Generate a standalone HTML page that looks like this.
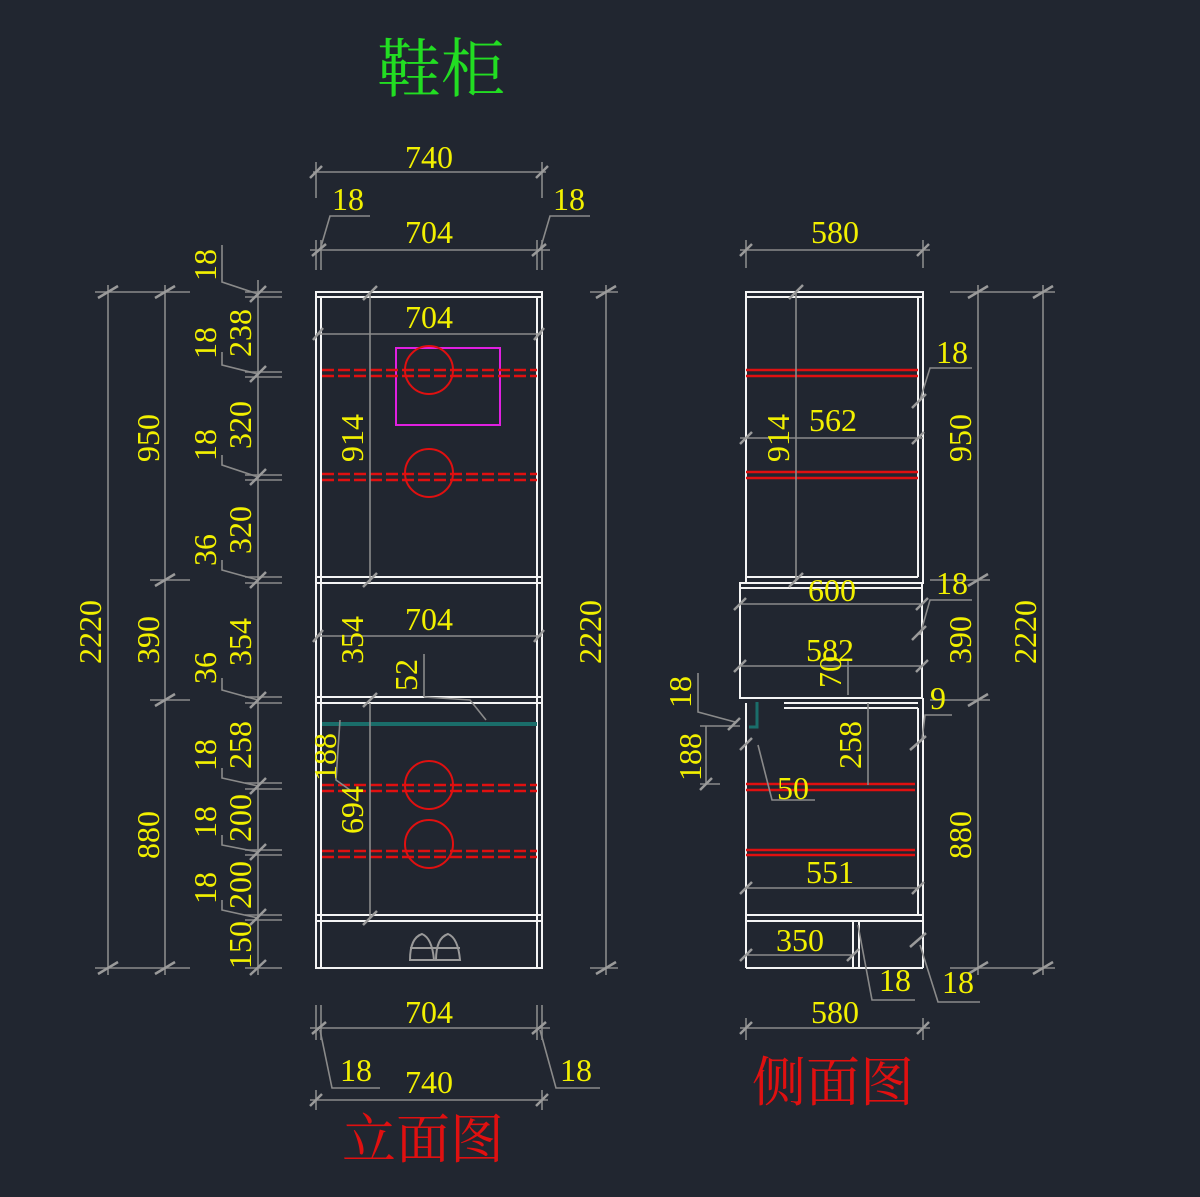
<!DOCTYPE html>
<html><head><meta charset="utf-8"><style>
html,body{margin:0;padding:0;background:#212630;}
svg{display:block}
.t{font-family:"Liberation Serif",serif;font-size:32px;fill:#f2f000;text-anchor:middle;dominant-baseline:central}
.w{stroke:#f4f4f4;stroke-width:2;fill:none}
.g{stroke:#8a8a8a;stroke-width:1.6;fill:none}
.tk{stroke:#9a9a9a;stroke-width:2.5}
.rd{stroke:#e01010;stroke-width:2.5;stroke-dasharray:12 4;fill:none}
.rs{stroke:#e01010;stroke-width:2.5;fill:none}
.c{stroke:#e01010;stroke-width:2;fill:none}
</style></head><body>
<svg width="1200" height="1197" viewBox="0 0 1200 1197" xmlns="http://www.w3.org/2000/svg">
<rect width="1200" height="1197" fill="#212630"/>
<text x="441" y="70" font-family="'Liberation Serif','Noto Serif CJK SC',serif" font-size="64" fill="#22dd22" text-anchor="middle" dominant-baseline="central">鞋柜</text>
<text x="423" y="1140" font-family="'Liberation Serif','Noto Serif CJK SC',serif" font-size="54" fill="#e01010" text-anchor="middle" dominant-baseline="central">立面图</text>
<text x="833" y="1083" font-family="'Liberation Serif','Noto Serif CJK SC',serif" font-size="54" fill="#e01010" text-anchor="middle" dominant-baseline="central">侧面图</text>

<!-- FRONT VIEW -->
<rect class="w" x="316" y="292" width="226" height="676"/>
<line class="w" x1="321" y1="297" x2="321" y2="968"/>
<line class="w" x1="537" y1="297" x2="537" y2="968"/>
<line class="w" x1="316" y1="297" x2="542" y2="297"/>
<line class="w" x1="316" y1="577" x2="542" y2="577"/>
<line class="w" x1="316" y1="583" x2="542" y2="583"/>
<line class="w" x1="316" y1="697" x2="542" y2="697"/>
<line class="w" x1="316" y1="703" x2="542" y2="703"/>
<line class="w" x1="316" y1="915" x2="542" y2="915"/>
<line class="w" x1="316" y1="921" x2="542" y2="921"/>
<line x1="322" y1="724" x2="537" y2="724" stroke="#1a6d6a" stroke-width="4"/>
<rect x="396" y="348" width="104" height="77" fill="none" stroke="#e020e0" stroke-width="2"/>
<line class="rd" x1="322" y1="370" x2="537" y2="370"/><line class="rd" x1="322" y1="376" x2="537" y2="376"/>
<line class="rd" x1="322" y1="474" x2="537" y2="474"/><line class="rd" x1="322" y1="480" x2="537" y2="480"/>
<line class="rd" x1="322" y1="785" x2="537" y2="785"/><line class="rd" x1="322" y1="791" x2="537" y2="791"/>
<line class="rd" x1="322" y1="851" x2="537" y2="851"/><line class="rd" x1="322" y1="857" x2="537" y2="857"/>
<circle class="c" cx="429" cy="370" r="24"/><circle class="c" cx="429" cy="473" r="24"/>
<circle class="c" cx="429" cy="785" r="24"/><circle class="c" cx="429" cy="844" r="24"/>
<!-- shoes -->
<g stroke="#9a9a9a" stroke-width="2" fill="none"><path d="M410 960 q0-22 12-26 q10 4 12 26 z"/><path d="M436 960 q0-22 12-26 q10 4 12 26 z"/><line x1="410" y1="948" x2="460" y2="948"/></g>
<!-- inner dims front -->
<g class="g"><line x1="370" y1="292" x2="370" y2="583"/><line x1="370" y1="703" x2="370" y2="918"/>
<line x1="316" y1="334" x2="542" y2="334"/><line x1="316" y1="636" x2="542" y2="636"/>
<line x1="424" y1="654" x2="424" y2="697"/><polyline points="424,697 470,700 486,720"/><polyline points="340,720 336,780 350,790"/></g>
<g class="tk"><line x1="363" y1="300" x2="377" y2="286"/><line x1="363" y1="587" x2="377" y2="573"/><line x1="363" y1="707" x2="377" y2="693"/><line x1="363" y1="925" x2="377" y2="911"/>
<line x1="313" y1="340" x2="323" y2="328"/><line x1="534" y1="340" x2="544" y2="328"/><line x1="313" y1="642" x2="323" y2="630"/><line x1="534" y1="642" x2="544" y2="630"/></g>
<text class="t" x="429" y="317">704</text><text class="t" x="429" y="619">704</text>
<text class="t" transform="translate(352 438) rotate(-90)">914</text>
<text class="t" transform="translate(352 640) rotate(-90)">354</text>
<text class="t" transform="translate(406 675) rotate(-90)">52</text>
<text class="t" transform="translate(325 757) rotate(-90)">188</text>
<text class="t" transform="translate(352 810) rotate(-90)">694</text>
<!-- top dims -->
<g class="g"><line x1="313" y1="172" x2="546" y2="172"/><line x1="316" y1="162" x2="316" y2="198"/><line x1="542" y1="162" x2="542" y2="198"/>
<line x1="310" y1="250" x2="550" y2="250"/><line x1="316" y1="240" x2="316" y2="270"/><line x1="321" y1="240" x2="321" y2="270"/><line x1="537" y1="240" x2="537" y2="270"/><line x1="542" y1="240" x2="542" y2="270"/>
<polyline points="370,216 330,216 320,250"/><polyline points="590,216 550,216 540,250"/>
<line x1="310" y1="1028" x2="550" y2="1028"/><line x1="316" y1="1005" x2="316" y2="1040"/><line x1="321" y1="1005" x2="321" y2="1040"/><line x1="537" y1="1005" x2="537" y2="1040"/><line x1="542" y1="1005" x2="542" y2="1040"/>
<line x1="310" y1="1100" x2="548" y2="1100"/><line x1="316" y1="1090" x2="316" y2="1110"/><line x1="542" y1="1090" x2="542" y2="1110"/>
<polyline points="320,1030 332,1088 380,1088"/><polyline points="540,1030 556,1088 600,1088"/></g>
<g class="tk"><line x1="310" y1="178" x2="322" y2="166"/><line x1="536" y1="178" x2="548" y2="166"/><line x1="312" y1="256" x2="326" y2="244"/><line x1="532" y1="256" x2="546" y2="244"/>
<line x1="312" y1="1034" x2="326" y2="1022"/><line x1="532" y1="1034" x2="546" y2="1022"/><line x1="310" y1="1106" x2="322" y2="1094"/><line x1="536" y1="1106" x2="548" y2="1094"/></g>
<text class="t" x="429" y="157">740</text><text class="t" x="348" y="199">18</text><text class="t" x="569" y="199">18</text><text class="t" x="429" y="232">704</text>
<text class="t" x="429" y="1012">704</text><text class="t" x="356" y="1070">18</text><text class="t" x="429" y="1082">740</text><text class="t" x="576" y="1070">18</text>
<!-- left dims -->
<g class="g"><line x1="258" y1="280" x2="258" y2="975"/><line x1="165" y1="285" x2="165" y2="975"/><line x1="108" y1="285" x2="108" y2="975"/><line x1="606" y1="285" x2="606" y2="975"/>
<line x1="95" y1="292" x2="190" y2="292"/><line x1="95" y1="968" x2="190" y2="968"/><line x1="150" y1="580" x2="190" y2="580"/><line x1="150" y1="700" x2="190" y2="700"/>
<line x1="245" y1="292" x2="282" y2="292"/><line x1="245" y1="297" x2="282" y2="297"/><line x1="245" y1="372" x2="282" y2="372"/><line x1="245" y1="377" x2="282" y2="377"/>
<line x1="245" y1="475" x2="282" y2="475"/><line x1="245" y1="480" x2="282" y2="480"/><line x1="245" y1="577" x2="282" y2="577"/><line x1="245" y1="583" x2="282" y2="583"/>
<line x1="245" y1="697" x2="282" y2="697"/><line x1="245" y1="703" x2="282" y2="703"/><line x1="245" y1="783" x2="282" y2="783"/><line x1="245" y1="789" x2="282" y2="789"/>
<line x1="245" y1="850" x2="282" y2="850"/><line x1="245" y1="855" x2="282" y2="855"/><line x1="245" y1="915" x2="282" y2="915"/><line x1="245" y1="920" x2="282" y2="920"/><line x1="245" y1="968" x2="282" y2="968"/>
<line x1="590" y1="292" x2="618" y2="292"/><line x1="590" y1="968" x2="618" y2="968"/>
<polyline points="222,245 222,282 258,294"/><polyline points="222,352 222,365 258,374"/><polyline points="222,455 222,465 258,477"/><polyline points="222,560 222,570 258,580"/><polyline points="222,678 222,690 258,700"/><polyline points="222,768 222,778 258,786"/><polyline points="222,835 222,845 258,852"/><polyline points="222,900 222,910 258,918"/></g>
<g class="tk"><line x1="98" y1="298" x2="118" y2="286"/><line x1="98" y1="974" x2="118" y2="962"/><line x1="155" y1="298" x2="175" y2="286"/><line x1="155" y1="586" x2="175" y2="574"/><line x1="155" y1="706" x2="175" y2="694"/><line x1="155" y1="974" x2="175" y2="962"/>
<line x1="596" y1="298" x2="616" y2="286"/><line x1="596" y1="974" x2="616" y2="962"/>
<line x1="250" y1="302" x2="266" y2="286"/><line x1="250" y1="382" x2="266" y2="366"/><line x1="250" y1="485" x2="266" y2="469"/><line x1="250" y1="588" x2="266" y2="572"/><line x1="250" y1="708" x2="266" y2="692"/><line x1="250" y1="794" x2="266" y2="778"/><line x1="250" y1="860" x2="266" y2="844"/><line x1="250" y1="925" x2="266" y2="909"/><line x1="250" y1="975" x2="266" y2="960"/></g>
<text class="t" transform="translate(205 265) rotate(-90)">18</text>
<text class="t" transform="translate(205 343) rotate(-90)">18</text>
<text class="t" transform="translate(240 333) rotate(-90)">238</text>
<text class="t" transform="translate(205 445) rotate(-90)">18</text>
<text class="t" transform="translate(240 425) rotate(-90)">320</text>
<text class="t" transform="translate(205 550) rotate(-90)">36</text>
<text class="t" transform="translate(240 530) rotate(-90)">320</text>
<text class="t" transform="translate(205 668) rotate(-90)">36</text>
<text class="t" transform="translate(240 642) rotate(-90)">354</text>
<text class="t" transform="translate(205 755) rotate(-90)">18</text>
<text class="t" transform="translate(240 745) rotate(-90)">258</text>
<text class="t" transform="translate(205 822) rotate(-90)">18</text>
<text class="t" transform="translate(240 818) rotate(-90)">200</text>
<text class="t" transform="translate(205 888) rotate(-90)">18</text>
<text class="t" transform="translate(240 885) rotate(-90)">200</text>
<text class="t" transform="translate(240 945) rotate(-90)">150</text>
<text class="t" transform="translate(148 438) rotate(-90)">950</text>
<text class="t" transform="translate(148 640) rotate(-90)">390</text>
<text class="t" transform="translate(148 835) rotate(-90)">880</text>
<text class="t" transform="translate(90 632) rotate(-90)">2220</text>
<text class="t" transform="translate(590 632) rotate(-90)">2220</text>

<!-- SIDE VIEW -->
<rect class="w" x="746" y="292" width="177" height="291"/>
<line class="w" x1="746" y1="297" x2="923" y2="297"/>
<line class="w" x1="918" y1="297" x2="918" y2="577"/>
<line class="w" x1="746" y1="577" x2="918" y2="577"/>
<rect class="w" x="740" y="583" width="182" height="115"/>
<line class="w" x1="740" y1="588" x2="922" y2="588"/>
<line class="w" x1="746" y1="703" x2="746" y2="968"/>
<line class="w" x1="746" y1="968" x2="923" y2="968"/>
<line class="w" x1="923" y1="698" x2="923" y2="968"/>
<line class="w" x1="918" y1="708" x2="918" y2="915"/>
<line class="w" x1="784" y1="703" x2="918" y2="703"/><line class="w" x1="784" y1="708" x2="918" y2="708"/>
<line class="w" x1="746" y1="915" x2="923" y2="915"/><line class="w" x1="746" y1="921" x2="923" y2="921"/>
<line class="w" x1="853" y1="921" x2="853" y2="968"/><line class="w" x1="859" y1="921" x2="859" y2="968"/>
<path d="M757 702 v25 h-8" stroke="#1a6d6a" stroke-width="3" fill="none"/>
<line class="rs" x1="746" y1="370" x2="918" y2="370"/><line class="rs" x1="746" y1="376" x2="918" y2="376"/>
<line class="rs" x1="746" y1="472" x2="918" y2="472"/><line class="rs" x1="746" y1="478" x2="918" y2="478"/>
<line class="rs" x1="746" y1="784" x2="915" y2="784"/><line class="rs" x1="746" y1="790" x2="915" y2="790"/>
<line class="rs" x1="746" y1="850" x2="915" y2="850"/><line class="rs" x1="746" y1="855" x2="915" y2="855"/>
<g class="g"><line x1="796" y1="292" x2="796" y2="580"/>
<line x1="740" y1="250" x2="930" y2="250"/><line x1="746" y1="240" x2="746" y2="268"/><line x1="923" y1="240" x2="923" y2="268"/>
<line x1="740" y1="438" x2="923" y2="438"/><line x1="740" y1="604" x2="922" y2="604"/><line x1="740" y1="666" x2="922" y2="666"/>
<line x1="746" y1="888" x2="918" y2="888"/><line x1="746" y1="955" x2="853" y2="955"/>
<line x1="740" y1="1028" x2="930" y2="1028"/><line x1="746" y1="1018" x2="746" y2="1040"/><line x1="923" y1="1018" x2="923" y2="1040"/>
<line x1="978" y1="285" x2="978" y2="975"/><line x1="1043" y1="285" x2="1043" y2="975"/>
<line x1="950" y1="292" x2="1055" y2="292"/><line x1="950" y1="968" x2="1055" y2="968"/><line x1="930" y1="580" x2="990" y2="580"/><line x1="930" y1="700" x2="990" y2="700"/>
<polyline points="972,368 930,368 920,400"/><polyline points="972,600 930,600 920,635"/><polyline points="952,715 925,715 922,740"/>
<line x1="868" y1="703" x2="868" y2="785"/><line x1="848" y1="660" x2="848" y2="695"/>
<polyline points="698,673 698,712 735,722"/><line x1="706" y1="726" x2="706" y2="784"/><line x1="700" y1="726" x2="740" y2="726"/><line x1="700" y1="784" x2="720" y2="784"/>
<polyline points="758,745 772,800 815,800"/>
<polyline points="858,925 872,1000 915,1000"/><polyline points="920,945 938,1002 980,1002"/></g>
<g class="tk"><line x1="740" y1="256" x2="752" y2="244"/><line x1="917" y1="256" x2="929" y2="244"/><line x1="789" y1="299" x2="803" y2="285"/><line x1="789" y1="587" x2="803" y2="573"/>
<line x1="740" y1="444" x2="752" y2="432"/><line x1="912" y1="444" x2="924" y2="432"/><line x1="734" y1="610" x2="746" y2="598"/><line x1="916" y1="610" x2="928" y2="598"/><line x1="734" y1="672" x2="746" y2="660"/><line x1="916" y1="672" x2="928" y2="660"/>
<line x1="740" y1="894" x2="752" y2="882"/><line x1="912" y1="894" x2="924" y2="882"/><line x1="740" y1="961" x2="752" y2="949"/><line x1="847" y1="961" x2="859" y2="949"/>
<line x1="740" y1="1034" x2="752" y2="1022"/><line x1="917" y1="1034" x2="929" y2="1022"/>
<line x1="968" y1="298" x2="988" y2="286"/><line x1="968" y1="586" x2="988" y2="574"/><line x1="968" y1="706" x2="988" y2="694"/><line x1="968" y1="974" x2="988" y2="962"/>
<line x1="1033" y1="298" x2="1053" y2="286"/><line x1="1033" y1="974" x2="1053" y2="962"/>
<line x1="912" y1="408" x2="926" y2="394"/><line x1="912" y1="640" x2="926" y2="626"/><line x1="910" y1="750" x2="926" y2="736"/><line x1="910" y1="947" x2="926" y2="933"/><line x1="740" y1="750" x2="752" y2="738"/><line x1="700" y1="790" x2="712" y2="778"/><line x1="728" y1="730" x2="740" y2="718"/></g>
<text class="t" x="835" y="232">580</text><text class="t" x="952" y="352">18</text><text class="t" x="833" y="420">562</text>
<text class="t" x="832" y="590">600</text><text class="t" x="952" y="583">18</text><text class="t" x="830" y="650">582</text>
<text class="t" x="938" y="698">9</text><text class="t" x="793" y="788">50</text><text class="t" x="830" y="872">551</text>
<text class="t" x="800" y="940">350</text><text class="t" x="895" y="980">18</text><text class="t" x="958" y="982">18</text><text class="t" x="835" y="1012">580</text>
<text class="t" transform="translate(778 438) rotate(-90)">914</text>
<text class="t" transform="translate(960 438) rotate(-90)">950</text>
<text class="t" transform="translate(960 640) rotate(-90)">390</text>
<text class="t" transform="translate(960 835) rotate(-90)">880</text>
<text class="t" transform="translate(1025 632) rotate(-90)">2220</text>
<text class="t" transform="translate(680 692) rotate(-90)">18</text>
<text class="t" transform="translate(690 757) rotate(-90)">188</text>
<text class="t" transform="translate(850 745) rotate(-90)">258</text>
<text class="t" transform="translate(830 672) rotate(-90)">70</text>
</svg>
</body></html>
